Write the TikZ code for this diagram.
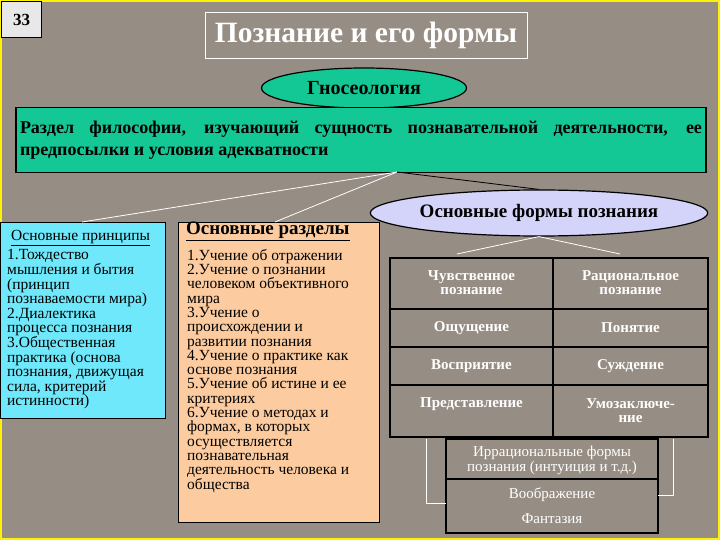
\documentclass[tikz,border=0pt]{standalone}
\usepackage{fontspec}
\setmainfont{Liberation Serif}
\usetikzlibrary{shapes.geometric}
\definecolor{bg}{RGB}{150,141,132}
\definecolor{tealfill}{RGB}{20,200,150}
\definecolor{cyanfill}{RGB}{110,232,250}
\definecolor{peach}{RGB}{252,204,160}
\definecolor{lav}{RGB}{212,212,250}
\definecolor{numfill}{RGB}{232,232,232}
\begin{document}
\begin{tikzpicture}[x=1pt,y=-1pt,
  boxline/.style={draw=black, line width=1.2pt},
  tcell/.style={text=white, font=\bfseries\fontsize{15}{14}\selectfont, align=center},
  wtext/.style={text=white, align=center, font=\fontsize{15}{15}\selectfont},
  wline/.style={draw=white, line width=0.8pt},
  bline/.style={draw=black, line width=1.2pt}]
\useasboundingbox (0,0) rectangle (720,540);
\fill[bg] (0,0) rectangle (720,540);
\draw[yellow, line width=2pt] (1,1) rectangle (719,539);

% number
\node[draw=black, line width=1pt, fill=numfill, anchor=north west, minimum width=40pt, minimum height=36pt, inner sep=0pt, font=\bfseries\fontsize{17}{18}\selectfont] (num) at (1,1) {33};

% title
\node[draw=white, line width=0.8pt, text=white, minimum width=322pt, minimum height=46pt, inner sep=0pt, font=\bfseries\fontsize{29.5}{30}\selectfont] (title) at (366,35) {Познание и его формы};

% gnoseology
\node[ellipse, boxline, fill=tealfill, minimum width=205pt, minimum height=40pt, inner sep=0pt, font=\bfseries\fontsize{20}{22}\selectfont] (gno) at (364,88) {Гносеология};

% description
\node[boxline, fill=tealfill, minimum width=690pt, minimum height=65pt, text width=682pt, align=justify, inner sep=4pt, font=\bfseries\fontsize{18}{22}\selectfont] (desc) at (361,140) {Раздел философии, изучающий сущность познавательной деятельности, ее\linebreak предпосылки и условия адекватности};

\coordinate (hub) at (397,172);

% forms ellipse
\node[ellipse, boxline, fill=lav, minimum width=270pt, minimum height=46pt, inner sep=0pt, font=\bfseries\fontsize{19}{20}\selectfont] (forms) at (539,213) {Основные формы познания};

% left box
\node[draw=black, line width=1pt, fill=cyanfill, anchor=north west, minimum width=165pt, minimum height=196pt, inner sep=0pt] (lbox) at (0,222) {};
\node[anchor=north west, inner sep=0pt, align=left, font=\fontsize{15.5}{14.6}\selectfont] (ltext) at (7,230) {\hspace*{4pt}\underline{Основные принципы}\\[3pt]
1.Тождество\\ мышления и бытия\\ (принцип\\ познаваемости мира)\\ 2.Диалектика\\ процесса познания\\ 3.Общественная\\ практика (основа\\ познания, движущая\\ сила, критерий\\ истинности)};

% middle box
\node[draw=black, line width=1pt, fill=peach, anchor=north west, minimum width=201pt, minimum height=300pt, inner sep=0pt] (mbox) at (178,222) {};
\node[anchor=north west, inner sep=0pt, align=left, font=\bfseries\fontsize{19}{20}\selectfont] (mtitle) at (186,222) {\underline{Основные разделы}};
\node[anchor=north west, inner sep=0pt, align=left, font=\fontsize{15.5}{14.3}\selectfont] (mtext) at (187,249) {1.Учение об отражении\\ 2.Учение о познании\\ человеком объективного\\ мира\\ 3.Учение о\\ происхождении и\\ развитии познания\\ 4.Учение о практике как\\ основе познания\\ 5.Учение об истине и ее\\ критериях\\ 6.Учение о методах и\\ формах, в которых\\ осуществляется\\ познавательная\\ деятельность человека и\\ общества};

% table
\draw[bline] (390,258) rectangle (708,437);
\draw[bline] (553,258) -- (553,437);
\draw[bline] (390,309) -- (708,309);
\draw[bline] (390,347) -- (708,347);
\draw[bline] (390,385) -- (708,385);
\node[tcell] (c11) at (471.5,283) {Чувственное\\ познание};
\node[tcell] (c12) at (630.5,283) {Рациональное\\ познание};
\node[tcell] (c21) at (471.5,328) {Ощущение};
\node[tcell] (c22) at (630.5,328) {Понятие};
\node[tcell] (c31) at (471.5,366) {Восприятие};
\node[tcell] (c32) at (630.5,366) {Суждение};
\node[tcell] (c41) at (471.5,404) {Представление};
\node[tcell] (c42) at (630.5,411) {Умозаключе-\\ние};

% lower box
\draw[bline] (446,439) rectangle (658,533);
\draw[bline] (446,479) -- (658,479);
\node[wtext] (irr) at (552,460) {Иррациональные формы\\ познания (интуиция и т.д.)};
\node[wtext] (voob) at (552,495) {Воображение};
\node[wtext] (fant) at (552,519) {Фантазия};

% brackets
\draw[wline] (426,439) -- (426,503) -- (446,503);
\draw[wline] (673,439) -- (673,495) -- (658,495);

% connectors
\draw[wline] (hub) -- (82,222);
\draw[wline] (hub) -- (275,222);
\draw[black, line width=0.8pt] (hub) -- (forms.north);
\draw[wline] (forms.south) -- (457,254);
\draw[wline] (forms.south) -- (620,254);
\end{tikzpicture}
\end{document}
